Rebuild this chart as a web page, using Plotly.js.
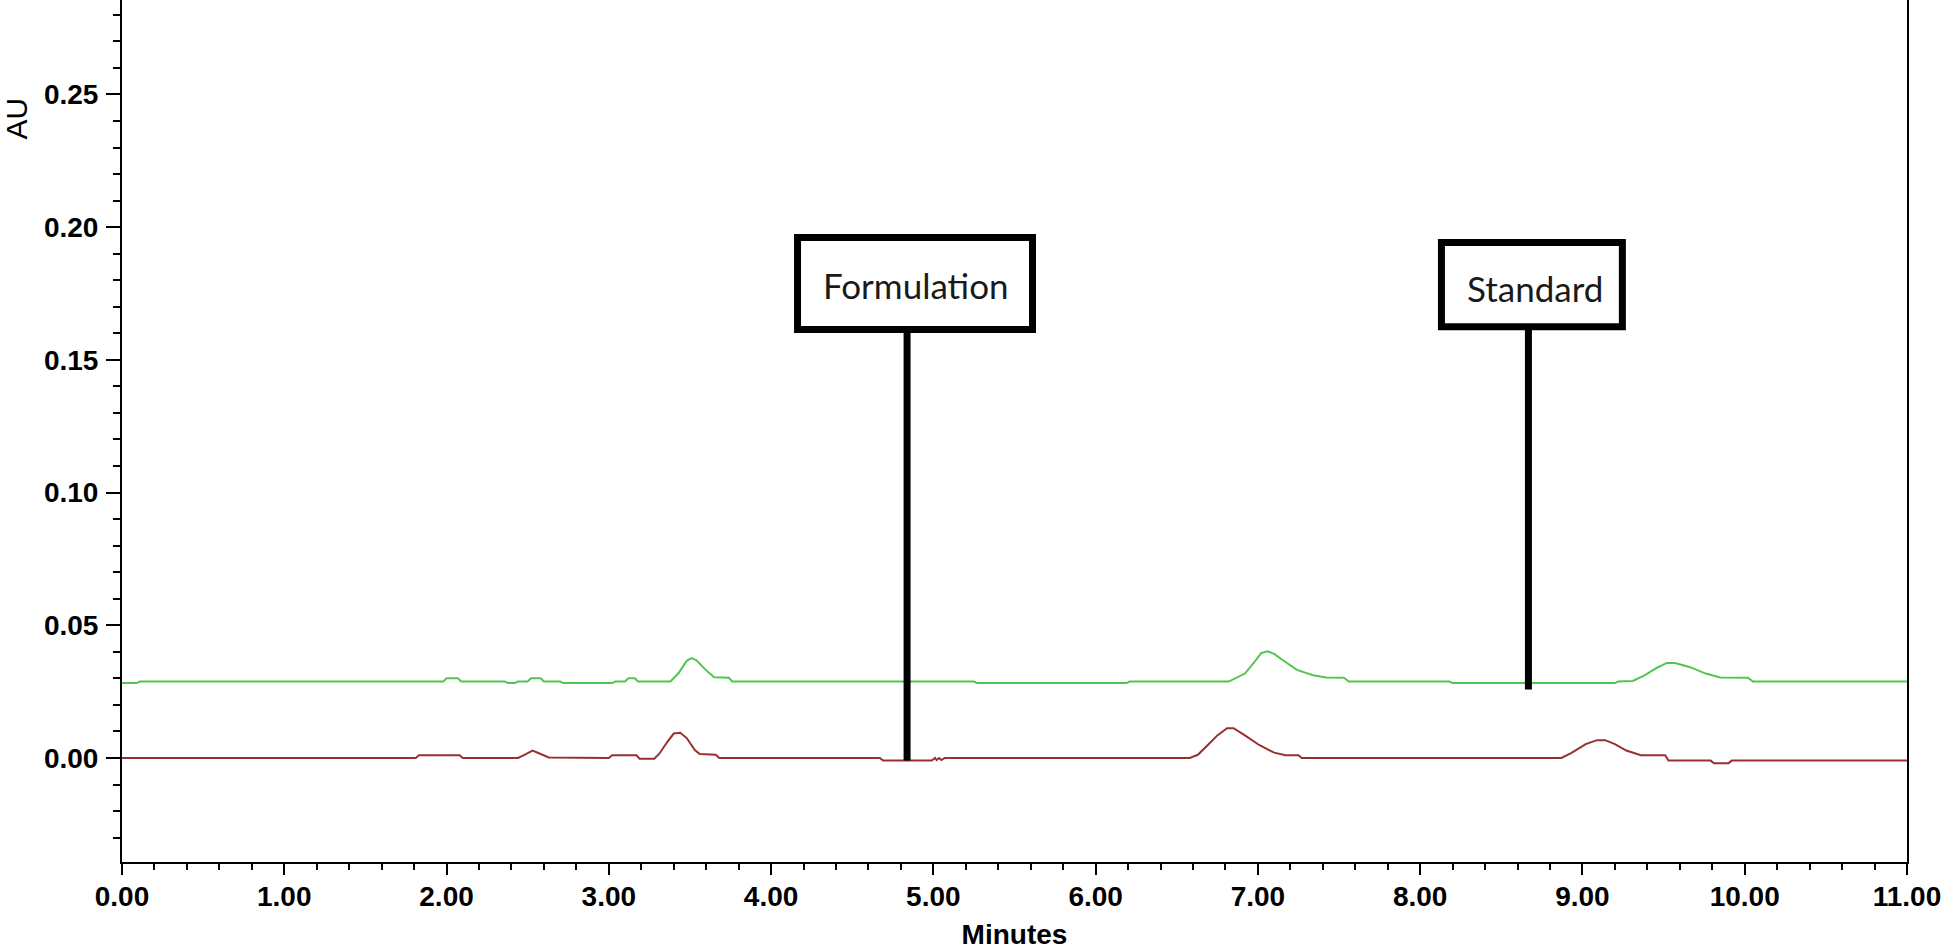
<!DOCTYPE html>
<html>
<head>
<meta charset="utf-8">
<script src="https://cdn.plot.ly/plotly-3.0.1.min.js"></script>
<style>html,body{margin:0;padding:0;background:#fff;}#chart{width:1946px;height:950px;}</style>
</head>
<body>
<div id="chart"></div>
<script>
// Standard trace (green)
var standardTime = [0.00,0.09,0.11,1.98,2.00,2.07,2.09,2.36,2.38,2.42,2.44,2.50,2.52,2.58,2.60,2.70,2.72,3.02,3.04,3.10,3.12,3.16,3.18,
  3.38,3.43,3.48,3.51,3.54,3.60,3.65,3.74,3.76,5.25,5.27,6.19,6.21,
  6.82,6.86,6.92,6.97,7.02,7.06,7.10,7.15,7.24,7.34,7.42,7.53,7.56,
  8.18,8.20,9.20,9.22,9.31,9.38,9.46,9.52,9.57,9.66,9.76,9.85,10.02,10.05,11.00];
var standardAU = [0.0282,0.0282,0.0288,0.0288,0.0300,0.0300,0.0288,0.0288,0.0282,0.0282,0.0288,0.0288,0.0300,0.0300,0.0288,0.0288,0.0282,0.0282,0.0288,0.0288,0.0300,0.0300,0.0288,
  0.0288,0.0320,0.0366,0.0376,0.0368,0.0330,0.0304,0.0302,0.0288,0.0288,0.0282,0.0282,0.0288,
  0.0288,0.0300,0.0318,0.0355,0.0395,0.0402,0.0392,0.0370,0.0332,0.0312,0.0303,0.0302,0.0288,
  0.0288,0.0282,0.0282,0.0288,0.0290,0.0310,0.0340,0.0358,0.0358,0.0343,0.0318,0.0303,0.0302,0.0288,0.0288];

// Formulation trace (red)
var formulationTime = [0.00,1.81,1.83,2.08,2.10,2.44,2.48,2.53,2.58,2.63,3.00,3.02,3.17,3.19,3.28,3.31,3.36,3.40,3.44,3.48,3.53,3.56,3.66,3.68,
  4.67,4.69,4.99,5.01,5.02,5.035,5.05,5.07,
  6.58,6.63,6.69,6.75,6.81,6.85,6.92,7.01,7.10,7.17,7.25,7.27,
  8.87,8.93,9.02,9.09,9.14,9.20,9.27,9.36,9.51,9.53,9.79,9.81,9.90,9.92,11.00];
var formulationAU = [0.0000,0.0000,0.0010,0.0010,0.0000,0.0000,0.0012,0.0028,0.0015,0.0002,0.0000,0.0010,0.0010,-0.0003,-0.0003,0.0015,0.0060,0.0092,0.0095,0.0075,0.0030,0.0015,0.0012,0.0000,
  0.0000,-0.0010,-0.0010,0.0000,-0.0008,0.0000,-0.0008,0.0000,
  0.0000,0.0012,0.0048,0.0085,0.0112,0.0112,0.0085,0.0048,0.0020,0.0010,0.0010,0.0000,
  0.0000,0.0018,0.0052,0.0067,0.0067,0.0052,0.0028,0.0010,0.0010,-0.0010,-0.0010,-0.0020,-0.0020,-0.0010,-0.0010];

var xRange = [0, 11];
var yRange = [-0.0392, 0.2856];
var xTickLabels = ['0.00','1.00','2.00','3.00','4.00','5.00','6.00','7.00','8.00','9.00','10.00','11.00'];
var yTickLabels = ['0.00','0.05','0.10','0.15','0.20','0.25'];
var xTickVals = [0,1,2,3,4,5,6,7,8,9,10,11];
var yTickVals = [0,0.05,0.10,0.15,0.20,0.25];

// Callout boxes (label, box extent, leader line)
var callouts = [
  {text:'Formulation', x0:4.163, x1:5.611, y0:0.1614, y1:0.1961, tx:4.896, ty:0.1782, lx:4.838, ly0:-0.0010},
  {text:'Standard', x0:8.131, x1:9.246, y0:0.1625, y1:0.1942, tx:8.710, ty:0.1770, lx:8.667, ly0:0.0258}
];

var tickFont = {family:'"Liberation Sans", Arial, sans-serif', size:28, color:'#000', weight:'bold'};

var traces = [
  {x: standardTime, y: standardAU, type:'scatter', mode:'lines', name:'Standard',
   line:{color:'#50c650', width:2}},
  {x: formulationTime, y: formulationAU, type:'scatter', mode:'lines', name:'Formulation',
   line:{color:'#983030', width:2}}
];

var shapes = [];
var annotations = [];
callouts.forEach(function(c){
  shapes.push({type:'line', xref:'x', yref:'y', x0:c.lx, x1:c.lx, y0:c.ly0, y1:c.y0,
    line:{color:'#000', width:7}, layer:'above'});
  shapes.push({type:'rect', xref:'x', yref:'y', x0:c.x0, x1:c.x1, y0:c.y0, y1:c.y1,
    line:{color:'#000', width:7}, fillcolor:'#fff', layer:'above'});
  annotations.push({xref:'x', yref:'y', x:c.tx, y:c.ty, text:c.text, showarrow:false,
    xanchor:'center', yanchor:'middle',
    font:{family:'Lato, "Noto Sans", sans-serif', size:35, color:'#1a1a1a'}});
});
annotations.push({xref:'paper', yref:'paper', x:-0.0591, y:1-119/862, text:'AU', showarrow:false,
  textangle:-90, xanchor:'center', yanchor:'middle',
  font:{family:'"Liberation Sans", Arial, sans-serif', size:30, color:'#000'}});

var layout = {
  width:1946, height:950,
  margin:{l:122, r:39, t:0, b:88, pad:0},
  paper_bgcolor:'#fff', plot_bgcolor:'#fff',
  showlegend:false,
  xaxis:{range:xRange, tickvals:xTickVals, ticktext:xTickLabels, showgrid:false, zeroline:false,
    showline:true, linecolor:'#000', linewidth:2, ticks:'outside', ticklen:11, tickwidth:2, tickcolor:'#000',
    tickfont:tickFont, ticklabelstandoff:-3,
    minor:{dtick:0.2, tick0:0, ticks:'outside', ticklen:6, tickwidth:2, tickcolor:'#000', showgrid:false},
    title:{text:'Minutes', font:tickFont, standoff:21}, automargin:false, fixedrange:true},
  yaxis:{range:yRange, tickvals:yTickVals, ticktext:yTickLabels, showgrid:false, zeroline:false,
    showline:true, mirror:true, linecolor:'#000', linewidth:2, ticks:'outside', ticklen:14, tickwidth:2, tickcolor:'#000',
    tickfont:tickFont, ticklabelstandoff:2,
    minor:{dtick:0.01, tick0:0, ticks:'outside', ticklen:7, tickwidth:2, tickcolor:'#000', showgrid:false},
    automargin:false, fixedrange:true},
  shapes:shapes,
  annotations:annotations
};

Plotly.newPlot('chart', traces, layout, {displayModeBar:false, staticPlot:true});
</script>
</body>
</html>
